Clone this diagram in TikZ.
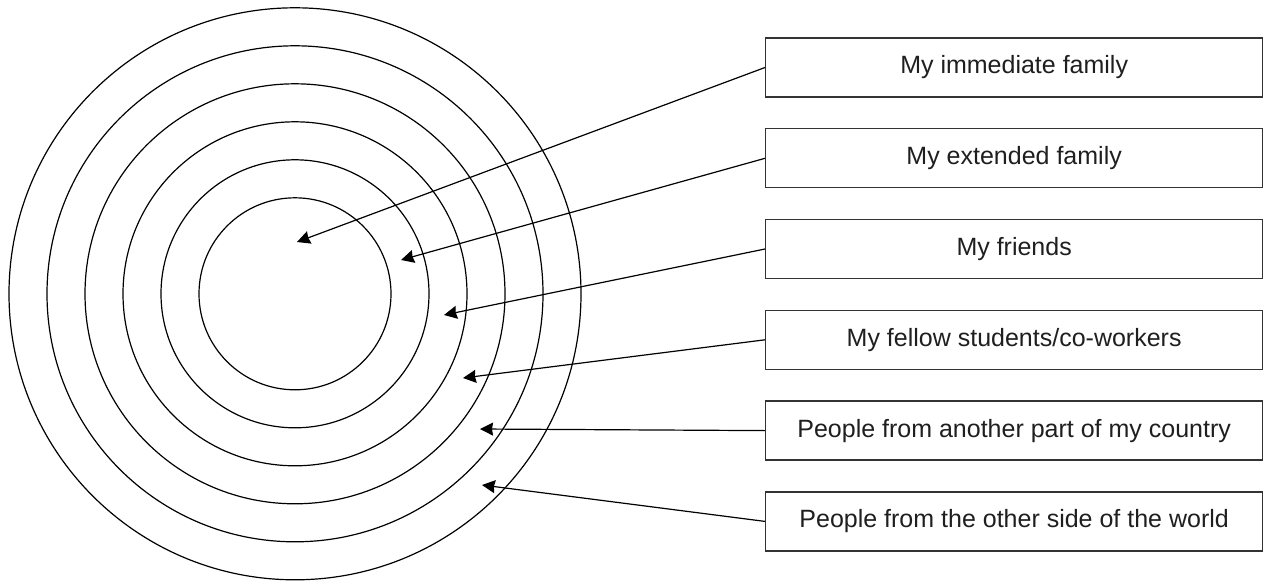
\documentclass[tikz,border=0pt]{standalone}
\usepackage{fontspec}
\setmainfont{Liberation Sans}
\usetikzlibrary{arrows.meta}
\begin{document}
\begin{tikzpicture}[x=1pt,y=-1pt,
  ring/.style={draw=black, line width=1.2pt},
  labelbox/.style={draw=black!80, line width=1.3pt, minimum width=497pt, minimum height=59pt,
    inner sep=0pt, font=\fontsize{25}{29}\selectfont, text=black!88, anchor=west},
  pointer/.style={draw=black, line width=1.2pt, -{Stealth[length=13pt,width=13pt,inset=1pt]}}]
\useasboundingbox (0,0) rectangle (1266,584);
\fill[white] (0,0) rectangle (1266,584);
% rings
\coordinate (c) at (295,293.8);
\foreach \r in {96,134,172,210,248,286}{
  \draw[ring] (c) circle[radius=\r];
}
% boxes
\node[labelbox] (b1) at (765,67.5) {My immediate family};
\node[labelbox] (b2) at (765,158.3) {My extended family};
\node[labelbox] (b3) at (765,249) {My friends};
\node[labelbox] (b4) at (765,339.8) {My fellow students/co-workers};
\node[labelbox] (b5) at (765,430.6) {People from another part of my country};
\node[labelbox] (b6) at (765,521.4) {People from the other side of the world};
% arrow tips
\coordinate (t1) at (297,242);
\coordinate (t2) at (401,260);
\coordinate (t3) at (444,315);
\coordinate (t4) at (463,378);
\coordinate (t5) at (480,429);
\coordinate (t6) at (482,485);
\draw[pointer] (b1.west) -- (t1);
\draw[pointer] (b2.west) -- (t2);
\draw[pointer] (b3.west) -- (t3);
\draw[pointer] (b4.west) -- (t4);
\draw[pointer] (b5.west) -- (t5);
\draw[pointer] (b6.west) -- (t6);
\end{tikzpicture}
\end{document}
